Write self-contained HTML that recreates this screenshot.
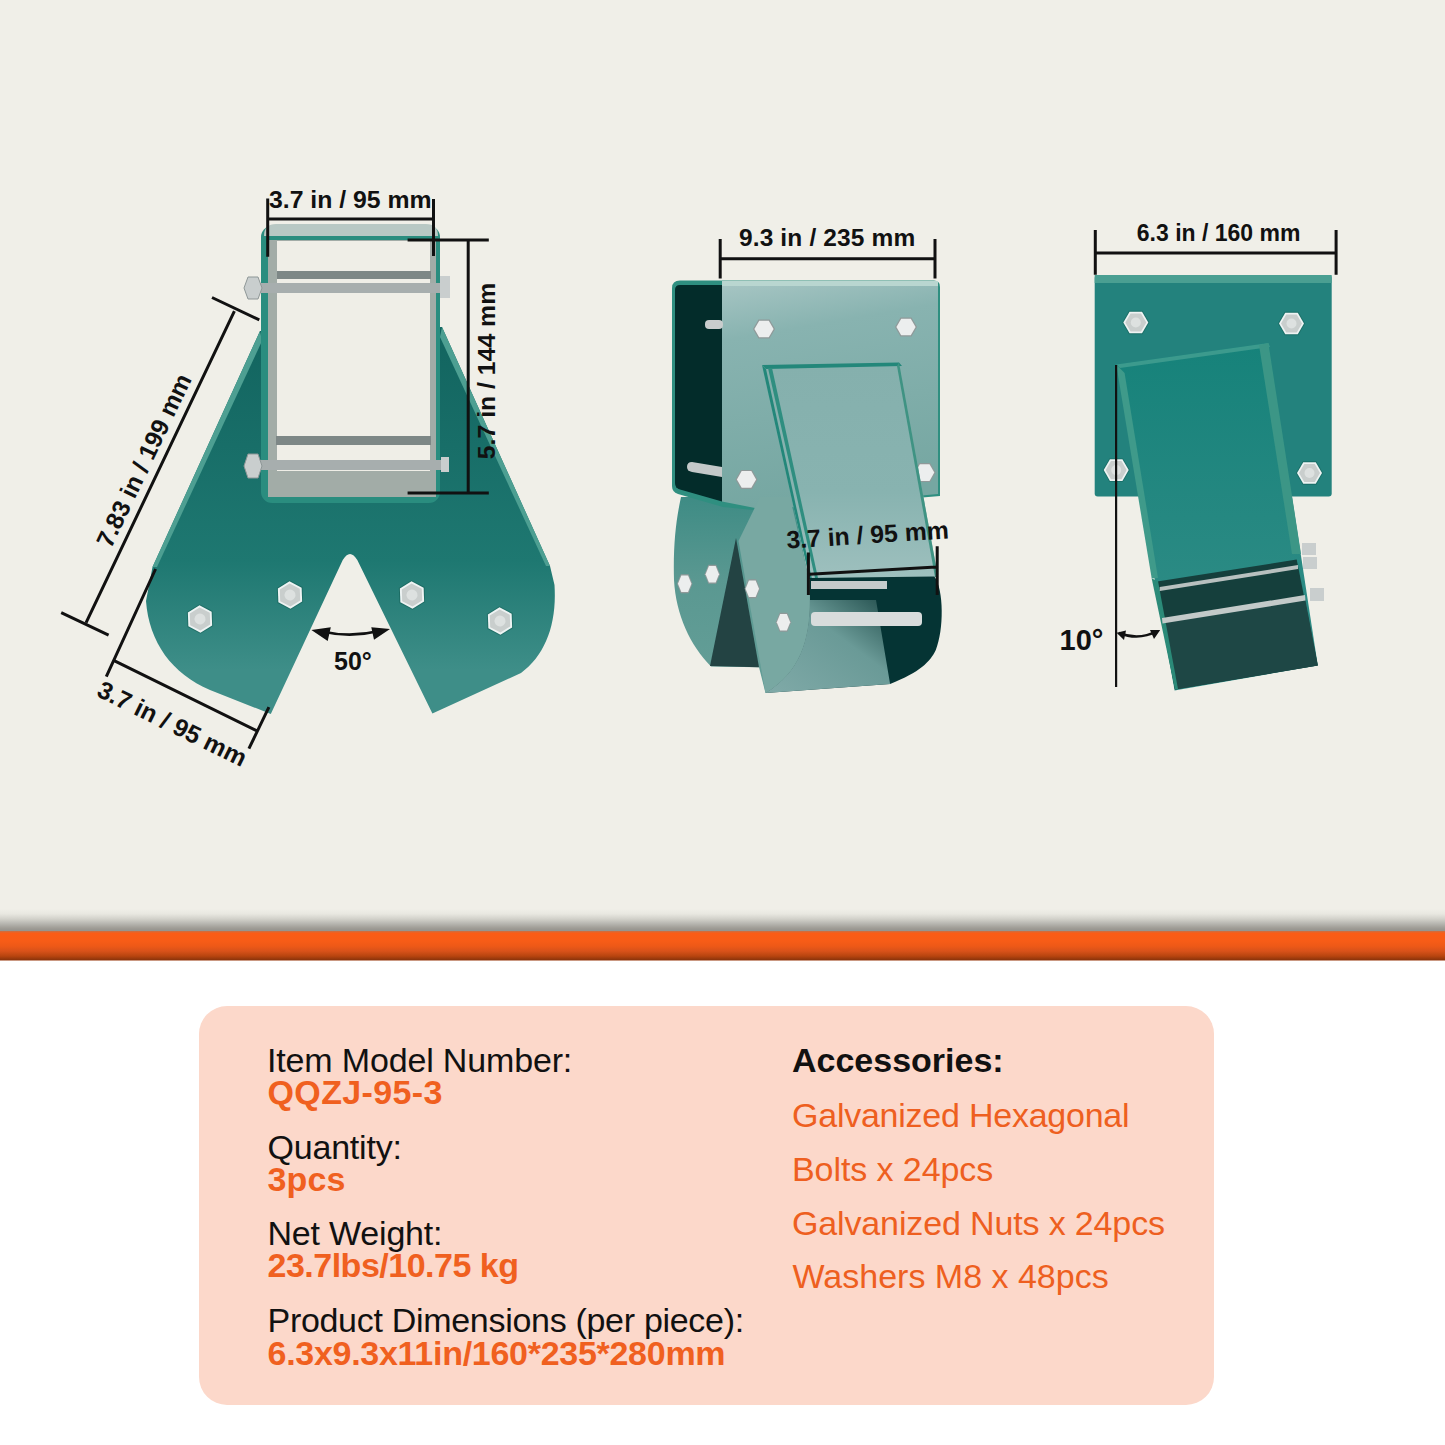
<!DOCTYPE html>
<html><head><meta charset="utf-8">
<style>
html,body{margin:0;padding:0;}
body{width:1445px;height:1445px;position:relative;overflow:hidden;background:#fff;font-family:"Liberation Sans",sans-serif;}
#top{position:absolute;left:0;top:0;width:1445px;height:931px;background:linear-gradient(to bottom,#f0efe8 0px,#f0efe8 909px,#e8e7e0 914px,#d2d1ca 919px,#b5b4ae 924px,#a09d96 928px,#97958f 930px,#97958f 931px);}
#band{position:absolute;left:0;top:931px;width:1445px;height:30px;background:linear-gradient(to bottom,#c87045 0px,#fa5c16 2.2px,#f75c17 10px,#ee5917 15px,#d9521a 20px,#b8450f 25px,#8f350b 28.6px,#ecd0c4 30px);}
#card{position:absolute;left:199px;top:1006px;width:1015px;height:399px;border-radius:28px;background:#fcd8ca;}
.t{position:absolute;white-space:nowrap;font-size:34px;line-height:1;}
.lab{color:#111;font-weight:400;}
.val{color:#f0601f;font-weight:700;}
.acc{color:#ee5f20;font-weight:400;}
.dim{position:absolute;white-space:nowrap;font-weight:700;color:#111;line-height:1;}
svg{position:absolute;left:0;top:0;}
</style></head><body>
<div id="top"></div>
<div id="band"></div>
<svg width="1445" height="931" viewBox="0 0 1445 931">
<defs>
<linearGradient id="bwing" gradientUnits="userSpaceOnUse" x1="0" y1="500" x2="0" y2="660"><stop offset="0" stop-color="#3f8c85"/><stop offset="0.5" stop-color="#5a9891"/><stop offset="1" stop-color="#629d96"/></linearGradient>
<linearGradient id="mface" gradientUnits="userSpaceOnUse" x1="722" y1="284" x2="760" y2="505"><stop offset="0" stop-color="#a6c5c3"/><stop offset="0.25" stop-color="#88b3b0"/><stop offset="1" stop-color="#76a7a2"/></linearGradient>
<linearGradient id="tface" gradientUnits="userSpaceOnUse" x1="0" y1="365" x2="0" y2="578"><stop offset="0" stop-color="#85b0ad"/><stop offset="0.6" stop-color="#88b3b0"/><stop offset="1" stop-color="#9ec0be"/></linearGradient>
<linearGradient id="lplate" gradientUnits="userSpaceOnUse" x1="0" y1="330" x2="0" y2="670"><stop offset="0" stop-color="#12645f"/><stop offset="0.68" stop-color="#1e7871"/><stop offset="1" stop-color="#3e8e88"/></linearGradient>
<g id="hex"><polygon points="-13.5,0 -6.75,-11.7 6.75,-11.7 13.5,0 6.75,11.7 -6.75,11.7" fill="#0f5a50" opacity="0.5"/><polygon points="-12.5,0 -6.25,-10.8 6.25,-10.8 12.5,0 6.25,10.8 -6.25,10.8" fill="#eef3f3"/><polygon points="-10.5,0 -5.25,-9.1 5.25,-9.1 10.5,0 5.25,9.1 -5.25,9.1" fill="#c9cecd"/><circle r="5" fill="#dde1e0"/></g>
<g id="hexs"><polygon points="-11,0 -5.5,-9.5 5.5,-9.5 11,0 5.5,9.5 -5.5,9.5" fill="#8f9999"/><polygon points="-9.6,0 -4.8,-8.3 4.8,-8.3 9.6,0 4.8,8.3 -4.8,8.3" fill="#eceeee"/></g>
</defs>
<g font-family="Liberation Sans" font-weight="700" fill="#111">
<!-- ============ LEFT PIECE ============ -->
<path d="M260,331 L152.5,567 L146,601 C149,642 172,674 210,690 L270.8,714 L342.75,560 Q350,548 357.3,560 L432.4,713.6 L521,673 C545,655 557,625 554.5,585 L550,566 L442,327 Z" fill="url(#lplate)"/>
<path d="M260,331 L152.5,567 L157,567 L262,341 Z" fill="#4d9f92"/>
<path d="M442,327 L550,566 L546,566 L440,337 Z" fill="#4d9f92"/>
<!-- tube -->
<rect x="261" y="226" width="179" height="277" rx="11" fill="#2a8d7f"/>
<path d="M264,236 Q264,224 276,224 L426,224 Q438,224 438,236 Z" fill="#b8c8c4"/>
<rect x="268" y="240" width="168" height="257" fill="#a2aca7"/>
<rect x="277" y="241" width="153" height="230" fill="#efeee7"/>
<rect x="277" y="271" width="154" height="8" fill="#7d8786"/>
<rect x="276" y="436" width="155" height="9" fill="#7d8786"/>
<rect x="252" y="283" width="192" height="10" fill="#a7aeae"/>
<rect x="252" y="460" width="192" height="10" fill="#a7aeae"/>
<polygon points="244,288 248,277 258,277 262,288 258,299 248,299" fill="#c9cece" stroke="#8e9797" stroke-width="1"/>
<polygon points="244,466 248,454 258,454 262,466 258,478 248,478" fill="#c9cece" stroke="#8e9797" stroke-width="1"/>
<rect x="440" y="276" width="10" height="22" fill="#c9cece"/>
<rect x="441" y="457" width="8" height="15" fill="#c9cece"/>
<use href="#hex" transform="translate(200,619) rotate(28) scale(1.1)"/>
<use href="#hex" transform="translate(290,595) rotate(28) scale(1.1)"/>
<use href="#hex" transform="translate(412,595) rotate(28) scale(1.1)"/>
<use href="#hex" transform="translate(500,621) rotate(28) scale(1.1)"/>
<!-- dims left -->
<g stroke="#111" stroke-width="3" fill="none">
<path d="M267.7,219 L433.5,219 M267.7,198.6 L267.7,256.8 M433.5,199 L433.5,256"/>
<path d="M468.2,240 L468.2,493 M407.6,240 L488.8,240 M407.6,493 L488.8,493"/>
<path d="M86.1,622.6 L234.4,311.2 M61.2,612.7 L108.6,635.1 M212,297.5 L259.3,319.9"/>
<path d="M114.6,660.8 L256.5,730.7 M106.3,676.7 L155.6,569 M248.9,748.7 L268.9,707.1"/>
<path d="M322,631.5 Q350.5,638 379,631" stroke-width="2.8"/>
</g>
<path d="M311.4,630.1 L330.8,627.3 L327.7,641.1 Z M390,629 L371.3,627.3 L374,639.8 Z"/>
<text x="269" y="207.5" font-size="24.8">3.7 in / 95 mm</text>
<text font-size="24.8" text-anchor="middle" transform="translate(486.5,371) rotate(-90)" y="8.9">5.7 in / 144 mm</text>
<text font-size="24.6" text-anchor="middle" transform="translate(143.5,460.2) rotate(-64.5)" y="8.9">7.83 in / 199 mm</text>
<text x="95.5" y="695.5" font-size="24.8" transform="rotate(26.2 95.5 695.5)">3.7 in / 95 mm</text>
<text x="334" y="669.5" font-size="25">50°</text>

<!-- ============ MIDDLE PIECE ============ -->
<!-- back wing plate -->
<path d="M681,497 L792,497 L809.7,583 L809.8,600 C809.8,640 800,672 765.5,693 L759,667.3 L711,666.5 C690,645 676,615 674,580 C673,545 676,520 681,497 Z" fill="url(#bwing)"/>
<path d="M736,538 L710,666 L759,667.3 Z" fill="#234343"/>
<!-- top tube -->
<path d="M672,288 Q672,280.5 680,280.5 L934,280.5 Q940,280.5 940,287 L940,496 L764,511 L723,507 L678,494 Q672,492 672,486 Z" fill="#2f8f80"/>
<path d="M675,290 Q675,285 680,285 L722,285 L722,501.5 L680,489.5 Q675,488 675,483 Z" fill="#032c2a"/>
<path d="M722,281 L938,281 L938,494 L764,509.7 L722,501.5 Z" fill="url(#mface)"/>
<rect x="722" y="281" width="216" height="5" fill="#b9d6d0"/>
<rect x="705" y="320" width="18" height="9" rx="4" fill="#c9cdcd"/>
<path d="M692,462 L722,467 L722,477 L692,472 Q687,471 687,467 Q687,462 692,462 Z" fill="#c3c9c9"/>
<use href="#hexs" x="764" y="329"/>
<use href="#hexs" x="906" y="327"/>
<use href="#hexs" x="746.5" y="479.4"/>
<use href="#hexs" x="924.7" y="472.6"/>
<!-- tilted tube face -->
<path d="M762,365 L899,362.6 L938,577 L809.5,579 Z" fill="url(#tface)"/>
<path d="M762,365 L899,362.6 L902,366 L766,369 Z" fill="#23877a"/>
<path d="M762,365 L766,369 L812,579 L809.5,579 Z" fill="#23877a"/>
<path d="M768,368 L772,368 L818,578 L815,578 Z" fill="#2f8e80"/>
<path d="M899,362.6 L938,577 L935,577 L897,366 Z" fill="#3f9383"/>
<!-- opening / lower tube -->
<path d="M809.5,578 L934.4,576.6 C944,590 944,630 935.8,650 C930,662 920,672 890.1,684 L765.5,693 C800,672 809.8,640 809.8,600 Z" fill="#053434"/>
<linearGradient id="flr" x1="0" y1="1" x2="1" y2="0"><stop offset="0" stop-color="#80aaa8"/><stop offset="0.6" stop-color="#6a9a97"/><stop offset="1" stop-color="#234f4d"/></linearGradient>
<path d="M809.8,600 L876,600 L890.1,684 L765.5,693 C800,672 809.8,640 809.8,600 Z" fill="url(#flr)"/>
<rect x="811" y="581" width="76" height="8" fill="#c5cbcb"/>
<rect x="811" y="612" width="111" height="14" rx="4" fill="#d8dcdc"/>
<!-- front wing -->
<path d="M738.5,541 L765.5,693 C800,672 809.8,640 809.8,600 L809.8,583 L790,497 L760,497 Z" fill="#78a8a2"/>
<use href="#hexs" x="684.7" y="583.7" transform="translate(684.7,583.7) scale(0.7,1) translate(-684.7,-583.7)"/>
<use href="#hexs" x="712.3" y="574.3" transform="translate(712.3,574.3) scale(0.7,1) translate(-712.3,-574.3)"/>
<use href="#hexs" x="752.3" y="588.8" transform="translate(752.3,588.8) scale(0.7,1) translate(-752.3,-588.8)"/>
<use href="#hexs" x="783.5" y="622.2" transform="translate(783.5,622.2) scale(0.7,1) translate(-783.5,-622.2)"/>
<!-- dims middle -->
<g stroke="#111" stroke-width="3" fill="none">
<path d="M720.2,258.8 L935,258.8 M720.2,239 L720.2,278.5 M935,239 L935,278.5"/>
<path d="M809.5,574.2 L936.1,566.9 M808.4,552.4 L808.4,595 M937.2,546.2 L937.2,595"/>
</g>
<text x="827.2" y="246.3" font-size="24.5" text-anchor="middle" letter-spacing="0.15">9.3 in / 235 mm</text>
<text font-size="24.8" text-anchor="middle" transform="translate(867.5,534.5) rotate(-3.6)" y="8.9">3.7 in / 95 mm</text>

<!-- ============ RIGHT PIECE ============ -->
<rect x="1094.7" y="275" width="237" height="221.5" rx="3" fill="#23827d"/>
<rect x="1094.7" y="275" width="237" height="8" fill="#4a9f92"/>
<use href="#hex" x="1135.8" y="322.5"/>
<use href="#hex" x="1291.5" y="323.5"/>
<use href="#hex" x="1116.2" y="470.1"/>
<use href="#hex" x="1309.5" y="473"/>
<linearGradient id="rtube" x1="0" y1="0" x2="0" y2="1"><stop offset="0" stop-color="#16827a"/><stop offset="1" stop-color="#348e88"/></linearGradient>
<path d="M1116.2,364.6 L1268.4,343.1 L1317.8,665.5 L1174.6,690.4 Z" fill="url(#rtube)"/>
<path d="M1116.2,364.6 L1268.4,343.1 L1270,347 L1120,368 Z" fill="#3c9a8d"/>
<path d="M1116.2,364.6 L1124.6,373 L1158,578 L1151.7,578.5 Z" fill="#3f9a8a"/>
<path d="M1259,345 L1268.4,343.1 L1301,554 L1292,554 Z" fill="#3c9686"/>
<path d="M1155.5,581.7 L1296.7,559.5 L1317.8,665.5 L1175,689.6 Z" fill="#153f3c"/>
<path d="M1162,622 L1305,598 L1317.8,665.5 L1175,689.6 Z" fill="#1e4745"/>
<path d="M1151.7,578.5 L1158,581 L1178,689 L1175,689.6 Z" fill="#2b8a78"/>
<path d="M1159.7,587 L1298,565 L1298,569 L1159.7,591 Z" fill="#b8c0bf"/>
<path d="M1162,618 L1305,595 L1305.5,600.5 L1162.5,623.5 Z" fill="#c3cac9"/>
<rect x="1302" y="543" width="14" height="12" fill="#c9cece"/>
<rect x="1303" y="557" width="14" height="12" fill="#c9cece"/>
<rect x="1310" y="588" width="14" height="13" fill="#c9cece"/>
<g stroke="#111" stroke-width="3" fill="none">
<path d="M1095.3,252.9 L1335.1,252.9 M1095.3,230.1 L1095.3,274.7 M1336.1,230 L1336.1,274.7"/>
<path d="M1116.1,365 L1116.1,687" stroke-width="2.2"/>
<path d="M1119,633 Q1139,641 1157,631" stroke-width="2.5"/>
</g>
<path d="M1116.6,632.8 L1126,630.5 L1124,640 Z M1160.2,630.1 L1150,630 L1154,639 Z"/>
<text x="1218.6" y="240.5" font-size="23" text-anchor="middle">6.3 in / 160 mm</text>
<text x="1059.5" y="649.5" font-size="29">10°</text>
</g>
</svg>

<div id="card"></div>
<!-- left column: baseline = top + 0.905*fs approx -->
<div class="t lab" style="left:267px;top:1043.0px;letter-spacing:-0.16px;">Item Model Number:</div>
<div class="t val" style="left:267.5px;top:1075.1px;letter-spacing:0.37px;">QQZJ-95-3</div>
<div class="t lab" style="left:267.5px;top:1129.6px;letter-spacing:-0.2px;">Quantity:</div>
<div class="t val" style="left:267.5px;top:1162.2px;letter-spacing:0.1px;">3pcs</div>
<div class="t lab" style="left:267.5px;top:1216.4px;letter-spacing:-0.2px;">Net Weight:</div>
<div class="t val" style="left:267.5px;top:1248.2px;letter-spacing:-0.5px;">23.7lbs/10.75 kg</div>
<div class="t lab" style="left:267.5px;top:1302.7px;letter-spacing:-0.3px;">Product Dimensions (per piece):</div>
<div class="t val" style="left:267.5px;top:1335.7px;letter-spacing:-0.28px;">6.3x9.3x11in/160*235*280mm</div>

<div class="t lab" style="left:792px;top:1042.6px;font-weight:700;letter-spacing:0px;">Accessories:</div>
<div class="t acc" style="left:792px;top:1097.5px;letter-spacing:-0.24px;">Galvanized Hexagonal</div>
<div class="t acc" style="left:792px;top:1151.6px;letter-spacing:-0.08px;">Bolts x 24pcs</div>
<div class="t acc" style="left:792px;top:1205.5px;letter-spacing:-0.14px;">Galvanized Nuts x 24pcs</div>
<div class="t acc" style="left:792.5px;top:1259.4px;letter-spacing:0px;">Washers M8 x 48pcs</div>

</body></html>
